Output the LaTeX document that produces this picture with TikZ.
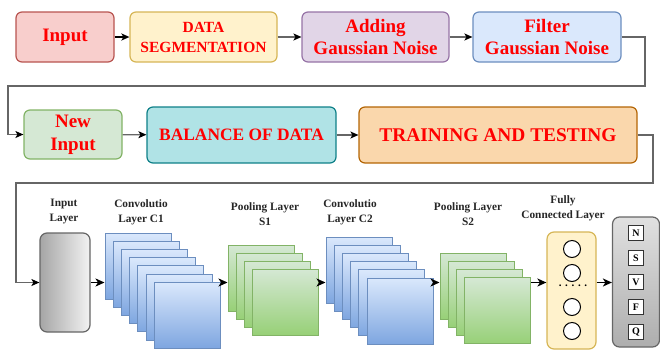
\documentclass[tikz,border=0pt]{standalone}
\usepackage{fontspec}
\setmainfont{Liberation Serif}
\newfontfamily\tnr{Liberation Serif}
\usetikzlibrary{arrows.meta,calc}
\definecolor{txtred}{HTML}{FF0000}
\definecolor{pinkf}{HTML}{F8CECC}\definecolor{pinkd}{HTML}{B85450}
\definecolor{yelf}{HTML}{FFF2CC}\definecolor{yeld}{HTML}{D6B656}
\definecolor{purf}{HTML}{E1D5E7}\definecolor{purd}{HTML}{9673A6}
\definecolor{bluf}{HTML}{DAE8FC}\definecolor{blud}{HTML}{6C8EBF}\definecolor{blub}{HTML}{7EA6E0}
\definecolor{grnf}{HTML}{D5E8D4}\definecolor{grnd}{HTML}{82B366}\definecolor{grnb}{HTML}{97D077}
\definecolor{tealf}{HTML}{B0E3E6}\definecolor{teald}{HTML}{0E8088}
\definecolor{orgf}{HTML}{FAD7AC}\definecolor{orgd}{HTML}{B46504}
\definecolor{linegray}{HTML}{666666}
\begin{document}
\begin{tikzpicture}[x=1pt,y=-1pt,
  box/.style={rounded corners=6pt, line width=1.2pt, inner sep=0pt, align=center, text=txtred},
  conn/.style={line width=1.2pt, draw=linegray, -{Stealth[length=8pt,width=7pt,inset=2pt,color=black]}},
  arr/.style={line width=1.5pt, draw=black, -{Stealth[length=9pt,width=8pt,inset=2.5pt]}},
  lbl/.style={align=center, font=\tnr\fontsize{11.3}{15}\selectfont\bfseries, text=black!85},
  bsq/.style={draw=blud, line width=1pt, top color=bluf, bottom color=blub, minimum width=66pt, minimum height=66pt, inner sep=0pt},
  gsq/.style={draw=grnd, line width=1pt, top color=grnf, bottom color=grnb, minimum width=66pt, minimum height=66pt, inner sep=0pt},
  neuron/.style={circle, draw=black, line width=1pt, fill=white, minimum size=17pt, inner sep=0pt},
  cls/.style={draw=black!80, line width=1pt, fill=white, minimum width=15pt, minimum height=15pt, inner sep=0pt, font=\tnr\fontsize{10}{10}\selectfont\bfseries}
]
\path[use as bounding box] (0,0) rectangle (660,351);

% Row 1
\node[box, fill=pinkf, draw=pinkd, minimum width=98pt, minimum height=50pt, font=\tnr\fontsize{19}{22}\selectfont\bfseries] (in1) at (65,37) {Input};
\node[box, fill=yelf, draw=yeld, minimum width=147pt, minimum height=50pt, font=\tnr\fontsize{15.5}{20}\selectfont\bfseries] (seg) at (203.5,37) {DATA\\SEGMENTATION};
\node[box, fill=purf, draw=purd, minimum width=147pt, minimum height=50pt, font=\tnr\fontsize{19}{22}\selectfont\bfseries] (add) at (375.5,37) {Adding\\Gaussian Noise};
\node[box, fill=bluf, draw=blud, minimum width=148pt, minimum height=50pt, font=\tnr\fontsize{19}{22}\selectfont\bfseries] (filt) at (547,37) {Filter\\Gaussian Noise};

\draw[line width=1.5pt, draw=black, -{Stealth[length=8pt,width=7pt,inset=2pt]}] (in1) -- (seg);
\draw[conn] (seg) -- (add);
\draw[conn] (add) -- (filt);

% Row 2
\node[box, fill=grnf, draw=grnd, minimum width=98pt, minimum height=49pt, font=\tnr\fontsize{19}{23}\selectfont\bfseries] (newin) at (73,134.5) {New\\Input};
\node[box, fill=tealf, draw=teald, minimum width=189pt, minimum height=56pt, font=\tnr\fontsize{17.4}{20}\selectfont\bfseries] (bal) at (241.5,135) {BALANCE OF DATA};
\node[box, fill=orgf, draw=orgd, minimum width=278pt, minimum height=56pt, font=\tnr\fontsize{19.4}{22}\selectfont\bfseries] (train) at (498,135) {TRAINING AND TESTING};

\coordinate (b1) at (645,86);
\coordinate (b2) at (8,86);
\draw[conn] (filt.east) -| (b1) -- (b2) |- (newin.west);
\draw[conn] (newin) -- (bal);
\draw[conn] (bal) -- (train);

\coordinate (b3) at (653,183);
\coordinate (b4) at (16,183);

% Row 3
\node[draw=black!60, line width=1.2pt, rounded corners=7pt, left color=black!35, right color=black!5, minimum width=50pt, minimum height=99pt, inner sep=0pt] (inl) at (65,282.5) {};
\draw[conn] (train.east) -| (b3) -- (b4) |- (inl.west);

\node[lbl] (linl) at (64,212) {Input\\Layer};

\foreach \k in {0,...,6} {
  \node[bsq] (c1\k) at ({138+8.2*\k},{266+8.2*\k}) {};
}
\node[lbl] (lc1) at (141,212) {Convolutio\\Layer C1};

\foreach \k in {0,...,3} {
  \node[gsq] (s1\k) at ({261+8*\k},{278+8*\k}) {};
}
\node[lbl] (ls1) at (265,214) {Pooling Layer\\S1};

\foreach \k in {0,...,5} {
  \node[bsq] (c2\k) at ({359+8.2*\k},{270+8.2*\k}) {};
}
\node[lbl] (lc2) at (350,212) {Convolutio\\Layer C2};

\foreach \k in {0,...,3} {
  \node[gsq] (s2\k) at ({473+8.3*\k},{286+8.3*\k}) {};
}
\node[lbl] (ls2) at (468,214) {Pooling Layer\\S2};

\node[draw=yeld, line width=1.2pt, rounded corners=7pt, fill=yelf, minimum width=49pt, minimum height=117pt, inner sep=0pt] (fc) at (571.5,290.5) {};
\node[lbl] (lfc) at (563,208) {Fully\\Connected Layer};
\node[neuron] (n1) at (572,249) {};
\node[neuron] (n2) at (572,273) {};
\node[font=\tnr\fontsize{11}{11}\selectfont\bfseries] (dots) at (573,286) {. . . . .};
\node[neuron] (n3) at (572,307) {};
\node[neuron] (n4) at (572,331) {};

\node[draw=black!60, line width=1.2pt, rounded corners=7pt, top color=black!12, bottom color=black!32, minimum width=47pt, minimum height=130pt, inner sep=0pt] (out) at (636,282) {};
\node[cls] (oN) at (636,233) {N};
\node[cls] (oS) at (636,258) {S};
\node[cls] (oV) at (636,282) {V};
\node[cls] (oF) at (636,307) {F};
\node[cls] (oQ) at (636,332) {Q};

% bottom arrows
\draw[arr] (inl.east) -- (inl.east -| c10.west);
\draw[arr] (inl.east -| c16.east) -- (inl.east -| s10.west);
\draw[arr] (inl.east -| s13.east) -- (inl.east -| c20.west);
\draw[arr] (inl.east -| c25.east) -- (inl.east -| s20.west);
\draw[arr] (inl.east -| s23.east) -- (inl.east -| fc.west);
\draw[arr] (inl.east -| fc.east) -- (inl.east -| out.west);
\end{tikzpicture}
\end{document}
